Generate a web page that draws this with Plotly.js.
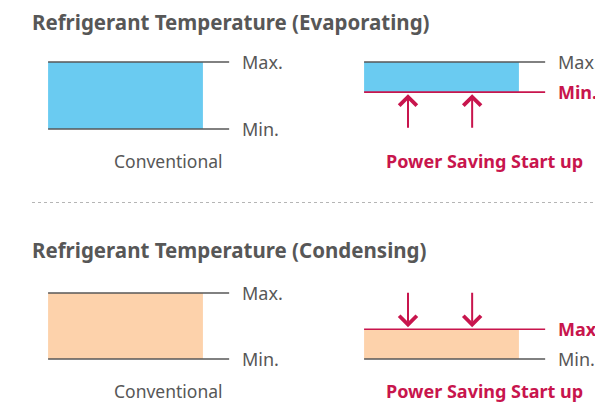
<!DOCTYPE html>
<html>
<head>
<meta charset="utf-8">
<script src="https://cdn.plot.ly/plotly-3.0.1.min.js"></script>
<style>html,body{margin:0;padding:0;background:#fff;}#chart{width:595px;height:403px;}</style>
</head>
<body>
<div id="chart"></div>
<script>
// ---- data ----
const categories = ["Conventional", "Power Saving Start up"];
const evapMin = [0, 0.55];
const evapMax = [1, 1];
const condMin = [0, 0];
const condMax = [1, 0.45];
const panelTitles = ["Refrigerant Temperature (Evaporating)", "Refrigerant Temperature (Condensing)"];
const maxLabel = "Max.";
const minLabel = "Min.";

// ---- styles / layout constants ----
const GRAY = "#575757";
const RED = "#c8154d";
const BLUE = "#6acbf1";
const ORANGE = "#fdd2ab";
const FONT = "Noto Sans, sans-serif";
const BAR_W = 0.49;
const LINE_LEN = 0.573;
const LABEL_OFF = 0.608;
const CAT_OFF = 0.137;
const ARROW_OFF = [-0.106, 0.097];

const idx = categories.map((c, i) => i);

const traces = [
  {type: "bar", x: idx, y: evapMax.map((v, i) => v - evapMin[i]), base: evapMin,
   width: BAR_W, marker: {color: BLUE, line: {width: 0}}, xaxis: "x", yaxis: "y", hoverinfo: "skip"},
  {type: "bar", x: idx, y: condMax.map((v, i) => v - condMin[i]), base: condMin,
   width: BAR_W, marker: {color: ORANGE, line: {width: 0}}, xaxis: "x", yaxis: "y2", hoverinfo: "skip"}
];

const shapes = [];
const annotations = [];

function panel(minArr, maxArr, yref, changed) {
  idx.forEach(i => {
    const left = i - BAR_W / 2;
    const isRedMin = changed === "min" && i === 1;
    const isRedMax = changed === "max" && i === 1;
    [[maxArr[i], isRedMax, maxLabel], [minArr[i], isRedMin, minLabel]].forEach(([v, red, lab]) => {
      shapes.push({type: "line", xref: "x", yref: yref, x0: left, x1: left + LINE_LEN, y0: v, y1: v,
        line: {color: red ? RED : GRAY, width: 1.6}, layer: "above"});
      annotations.push({xref: "x", yref: yref, x: left + LABEL_OFF, y: v, text: red ? "<b>" + lab + "</b>" : lab,
        showarrow: false, xanchor: "left", yanchor: "middle",
        font: {family: FONT, size: 18, color: red ? RED : GRAY}});
    });
    const isNew = i === 1;
    annotations.push({xref: "x", yref: yref, x: i + CAT_OFF, y: minArr[0], yshift: -32,
      text: isNew ? "<b>" + categories[i] + "</b>" : categories[i], showarrow: false,
      xanchor: "center", yanchor: "middle",
      font: {family: FONT, size: isNew ? 18 : 17.5, color: isNew ? RED : GRAY}});
    if (isNew) {
      ARROW_OFF.forEach(o => {
        const target = changed === "min" ? minArr[i] : maxArr[i];
        annotations.push({xref: "x", yref: yref, x: i + o, y: target, text: "",
          showarrow: true, ax: 0, ay: changed === "min" ? 37 : -38, arrowhead: 4,
          arrowsize: 1.7, arrowwidth: 2, arrowcolor: RED, standoff: 2});
      });
    }
  });
}
panel(evapMin, evapMax, "y", "min");
panel(condMin, condMax, "y2", "max");

annotations.push({xref: "paper", yref: "paper", x: 30 / 595, y: 1 - 22 / 403, text: "<b>" + panelTitles[0] + "</b>",
  showarrow: false, xanchor: "left", yanchor: "middle", font: {family: FONT, size: 20.5, color: GRAY}});
annotations.push({xref: "paper", yref: "paper", x: 30 / 595, y: 1 - 250 / 403, text: "<b>" + panelTitles[1] + "</b>",
  showarrow: false, xanchor: "left", yanchor: "middle", font: {family: FONT, size: 20.5, color: GRAY}});

shapes.push({type: "line", xref: "paper", yref: "paper", x0: 32 / 595, x1: 1, y0: 1 - 202.5 / 403, y1: 1 - 202.5 / 403,
  line: {color: "#b5b5b5", width: 1, dash: "dot"}});

const layout = {
  width: 595, height: 403,
  margin: {l: 0, r: 0, t: 0, b: 0},
  paper_bgcolor: "#fff", plot_bgcolor: "#fff",
  showlegend: false,
  barmode: "overlay",
  xaxis: {range: [-125.5 / 316, (595 - 125.5) / 316], visible: false, fixedrange: true},
  yaxis: {range: [-(403 - 129) / 67, 1 + 62 / 67], visible: false, fixedrange: true},
  yaxis2: {range: [-(403 - 359) / 66, 1 + 293 / 66], visible: false, overlaying: "y", fixedrange: true},
  shapes: shapes,
  annotations: annotations
};

Plotly.newPlot("chart", traces, layout, {staticPlot: true, displayModeBar: false});
</script>
</body>
</html>
